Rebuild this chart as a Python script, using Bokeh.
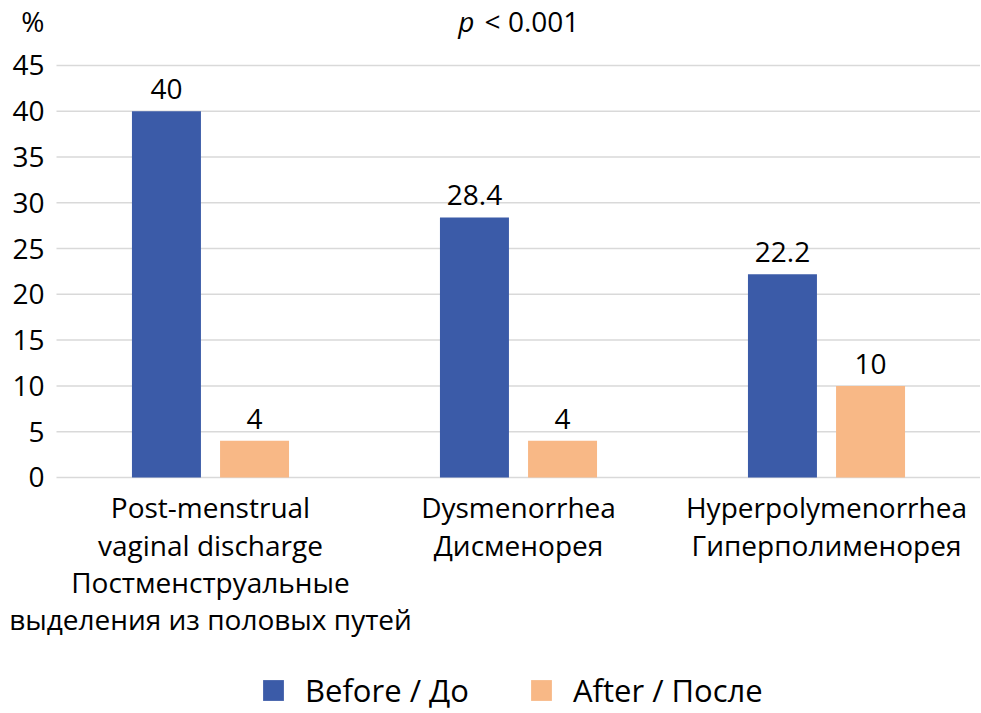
from bokeh.plotting import figure
from bokeh.models import (Range1d, ColumnDataSource, Legend, LegendItem, Label, FixedTicker)
from bokeh.transform import dodge
from bokeh.core.properties import value
from bokeh.embed import file_html
from bokeh.resources import INLINE

categories = ["Post-menstrual\nvaginal discharge\nПостменструальные\nвыделения из половых путей",
              "Dysmenorrhea\nДисменорея",
              "Hyperpolymenorrhea\nГиперполименорея"]
before = [40, 28.4, 22.2]
after = [4, 4, 10]
series_names = ["Before / До", "After / После"]
y_ticks = [0, 5, 10, 15, 20, 25, 30, 35, 40, 45]
unit_label = "%"
p_text = ["p", "< 0.001"]

BLUE = "#3B5BA8"
ORANGE = "#F8B886"
FONT = "Open Sans"
FS = "28px"

# category slots: each category occupies one unit, centred at i + 0.5
xpos = [i + 0.5 for i in range(len(categories))]

src = ColumnDataSource(dict(
    x=xpos,
    cat=categories,
    base=[0] * len(categories),
    before=before,
    after=after,
    before_lbl=[f"{v:g}" for v in before],
    after_lbl=[f"{v:g}" for v in after],
))

TOP_Y = 49.9      # header row (above the 45 line)
Y_MIN = -25.78    # room under the zero line for category labels and legend
X_MIN = -0.1818   # room left of the first category for the value scale
TICK_X = -0.039   # right edge of the value-scale labels

p = figure(frame_width=980, frame_height=703,
           x_range=Range1d(X_MIN, len(categories)), y_range=Range1d(Y_MIN, 51),
           output_backend="svg", toolbar_location=None,
           min_border_left=0, min_border_right=0, min_border_top=10, min_border_bottom=0)
p.outline_line_color = None
p.background_fill_color = "white"
p.border_fill_color = "white"
p.xaxis.visible = False
p.yaxis.visible = False
p.xgrid.grid_line_color = None

# horizontal grid lines: drawn from 0 of the category span to the right edge
grid_src = ColumnDataSource(dict(y=y_ticks, lbl=[str(t) for t in y_ticks],
                                 x0=[0] * len(y_ticks), x1=[len(categories)] * len(y_ticks)))
p.ygrid.grid_line_color = None
p.segment(x0="x0", y0="y", x1="x1", y1="y", source=grid_src,
          line_color="#D9D9D9", line_width=1.5)

off = 0.143
bw = 0.224
r1 = p.vbar(x=dodge("x", -off), top="before", width=bw, source=src,
            fill_color=BLUE, line_color=None)
r2 = p.vbar(x=dodge("x", off), top="after", width=bw, source=src,
            fill_color=ORANGE, line_color=None)

for col, lbl, sgn in (("before", "before_lbl", -1), ("after", "after_lbl", 1)):
    p.text(x=dodge("x", sgn * off), y=col, text=lbl, source=src,
           text_align="center", text_baseline="bottom", y_offset=-12,
           text_font=value(FONT), text_font_size=FS, text_color="black")

# category labels under the zero line
p.text(x="x", y="base", text="cat", source=src, text_align="center", text_baseline="top",
       y_offset=11, text_line_height=0.98,
       text_font=value(FONT), text_font_size=FS, text_color="black")

# value scale labels
p.text(x=TICK_X, y="y", text="lbl", source=grid_src, text_align="right", text_baseline="middle",
       text_font=value(FONT), text_font_size=FS, text_color="black")
p.add_layout(Label(x=TICK_X, y=TOP_Y, text=unit_label, text_align="right", text_baseline="middle",
                   text_font=FONT, text_font_size=FS, text_color="black"))

# header p-value
p.add_layout(Label(x=1.357, y=TOP_Y, text=p_text[0], text_align="right", text_baseline="middle",
                   text_font=FONT, text_font_size=FS, text_font_style="italic",
                   text_color="black"))
p.add_layout(Label(x=1.39, y=TOP_Y, text=p_text[1], text_align="left", text_baseline="middle",
                   text_font=FONT, text_font_size=FS, text_color="black"))

legend = Legend(items=[LegendItem(label=series_names[0], renderers=[r1]),
                       LegendItem(label=series_names[1], renderers=[r2])],
                orientation="horizontal", location=(260, 2),
                glyph_width=26, glyph_height=26, label_standoff=19, spacing=59,
                label_text_font=FONT, label_text_font_size="31px", label_text_color="black",
                border_line_color=None, background_fill_alpha=0, margin=0, padding=0)
p.add_layout(legend, "center")

open("out.html", "w").write(file_html(p, INLINE))
